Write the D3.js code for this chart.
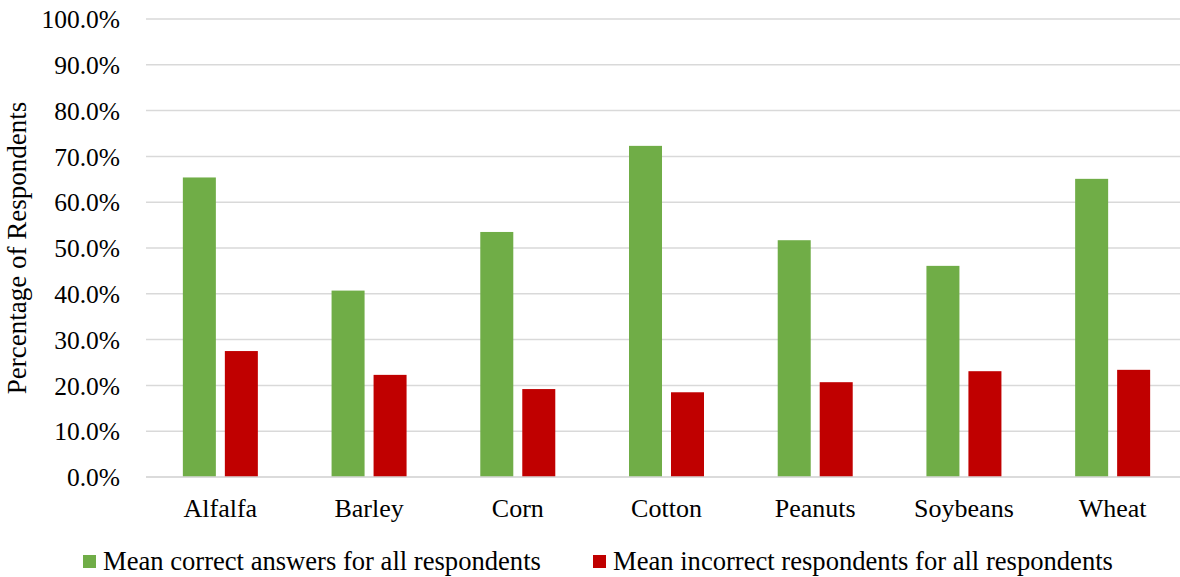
<!DOCTYPE html>
<html>
<head>
<meta charset="utf-8">
<script src="https://cdn.jsdelivr.net/npm/d3@7"></script>
<style>
  html, body { margin: 0; padding: 0; background: #fff; }
  svg { display: block; font-family: "Liberation Serif", "Times New Roman", serif; }
</style>
</head>
<body>
<svg id="chart" width="1180" height="577"></svg>
<script>
// Crop survey results: share of respondents answering correctly vs incorrectly
const categories = ["Alfalfa", "Barley", "Corn", "Cotton", "Peanuts", "Soybeans", "Wheat"];
const seriesNames = ["Mean correct answers for all respondents", "Mean incorrect respondents for all respondents"];
const correctValues = [65.4, 40.7, 53.5, 72.3, 51.7, 46.1, 65.1];
const incorrectValues = [27.5, 22.3, 19.2, 18.5, 20.7, 23.1, 23.4];
const yTicks = [0, 10, 20, 30, 40, 50, 60, 70, 80, 90, 100];
const seriesColors = ["#70ad47", "#c00000"];

const FONT = "'Liberation Serif', 'Times New Roman', serif";
const FS = 26;

const svg = d3.select("#chart");
const plot = { left: 146, right: 1187, top: 19, bottom: 477 };

const x0 = d3.scaleBand().domain(categories).range([plot.left, plot.right]).padding(0);
const half = 37.5;
const x1 = d3.scaleBand().domain([0, 1]).range([x0.bandwidth() / 2 - half, x0.bandwidth() / 2 + half]).paddingInner(0.214);
const y = d3.scaleLinear().domain([0, 100]).range([plot.bottom, plot.top]);

// Horizontal gridlines
svg.append("g")
  .selectAll("line")
  .data(yTicks)
  .join("line")
  .attr("x1", plot.left)
  .attr("x2", plot.right)
  .attr("y1", d => y(d))
  .attr("y2", d => y(d))
  .attr("stroke", "#d9d9d9")
  .attr("stroke-width", 1.5);

// Y axis labels
const yAxis = d3.axisLeft(y).tickValues(yTicks).tickFormat(d => d.toFixed(1) + "%").tickSize(0).tickPadding(0);
const yg = svg.append("g").attr("transform", `translate(120,0)`).call(yAxis);
yg.select(".domain").remove();
yg.selectAll("text")
  .style("font-family", FONT)
  .attr("font-size", 25.5)
  .attr("fill", "#000")
  .attr("dy", "0.34em");

// Axis title
svg.append("text")
  .attr("transform", `translate(26,${(plot.top + plot.bottom) / 2}) rotate(-90)`)
  .attr("text-anchor", "middle")
  .style("font-family", FONT)
  .attr("font-size", 27)
  .attr("fill", "#000")
  .text("Percentage of Respondents");

// Bars
const rows = categories.map((c, i) => ({ cat: c, vals: [correctValues[i], incorrectValues[i]] }));
const groups = svg.append("g")
  .selectAll("g")
  .data(rows)
  .join("g")
  .attr("transform", d => `translate(${x0(d.cat)},0)`);

groups.selectAll("rect")
  .data(d => d.vals.map((v, k) => ({ k, v })))
  .join("rect")
  .attr("x", d => x1(d.k))
  .attr("width", x1.bandwidth())
  .attr("y", d => y(d.v))
  .attr("height", d => y(0) - y(d.v))
  .attr("fill", d => seriesColors[d.k]);

// Baseline
svg.append("line")
  .attr("x1", plot.left).attr("x2", plot.right)
  .attr("y1", y(0)).attr("y2", y(0))
  .attr("stroke", "#d9d9d9").attr("stroke-width", 1.5);

// X axis labels
const xAxis = d3.axisBottom(x0).tickSize(0).tickPadding(0);
const xg = svg.append("g").attr("transform", `translate(0,${plot.bottom})`).call(xAxis);
xg.select(".domain").remove();
xg.selectAll("text")
  .style("font-family", FONT)
  .attr("font-size", FS)
  .attr("fill", "#000")
  .attr("dy", 0)
  .attr("y", 40);

// Legend
const legendX = [83, 593];
const legend = svg.append("g")
  .selectAll("g")
  .data(seriesNames)
  .join("g")
  .attr("transform", (d, i) => `translate(${legendX[i]},555)`);
legend.append("rect")
  .attr("width", 13).attr("height", 13)
  .attr("fill", (d, i) => seriesColors[i]);
legend.append("text")
  .attr("x", 20).attr("y", 15)
  .style("font-family", FONT)
  .attr("font-size", 26.6)
  .attr("fill", "#000")
  .text(d => d);
</script>
</body>
</html>
